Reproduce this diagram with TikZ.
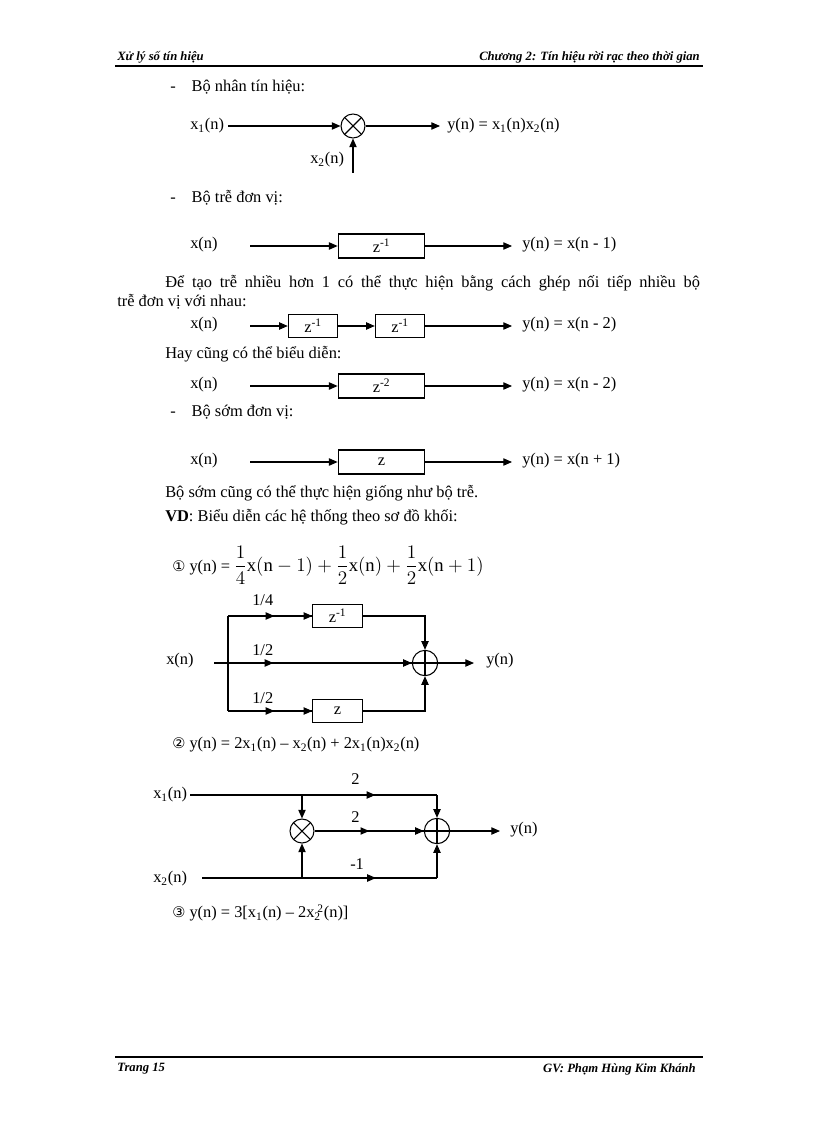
\documentclass[tikz,border=0pt]{standalone}
\usepackage{fontspec}
\setmainfont{Liberation Serif}
\newfontfamily\djvfont{DejaVu Sans}
\usetikzlibrary{arrows.meta,decorations.markings,calc}
\begin{document}
\begin{tikzpicture}[x=0.75pt,y=-0.75pt,font=\fontsize{12.3}{14}\selectfont,
  ar/.style={-{Triangle[length=6.5pt,width=5.5pt]},thick},
  ln/.style={thick},
  mid/.style={thick,postaction={decorate},decoration={markings,mark=at position #1 with {\arrow{Triangle[length=6.5pt,width=5.5pt]}}}},
  blk/.style={draw,thick,minimum width=65pt,minimum height=18pt,inner sep=0pt},
  sblk/.style={draw,thick,minimum width=37pt,minimum height=17pt,inner sep=0pt},
  txt/.style={anchor=west,inner sep=0pt},
  mult/.style={circle,draw,thick,minimum size=18pt,inner sep=0pt,path picture={\draw[thick] (path picture bounding box.north west)--(path picture bounding box.south east) (path picture bounding box.north east)--(path picture bounding box.south west);}},
  plus/.style={circle,draw,thick,minimum size=19pt,inner sep=0pt,path picture={\draw[thick] (path picture bounding box.north)--(path picture bounding box.south) (path picture bounding box.west)--(path picture bounding box.east);}}]
\useasboundingbox (0,0) rectangle (816,1123);
% header/footer
\node[txt,font=\fontsize{9.5}{11}\selectfont\bfseries\itshape] (h1) at (117,57) {Xử lý số tín hiệu};
\node[anchor=east,inner sep=0pt,font=\fontsize{9.5}{11}\selectfont\bfseries\itshape] (h2) at (700,57) {Chương 2: Tín hiệu rời rạc theo thời gian};
\draw[thick] (115,66)--(703,66);
\draw[thick] (115,1057)--(703,1057);
\node[txt,font=\fontsize{9.5}{11}\selectfont\bfseries\itshape] (f1) at (117,1069) {Trang 15};
\node[anchor=east,inner sep=0pt,font=\fontsize{9.5}{11}\selectfont\bfseries\itshape] (f2) at (696,1069) {GV: Phạm Hùng Kim Khánh};
% multiplier
\node[txt] (t1) at (170,87) {-\hspace{12pt}Bộ nhân tín hiệu:};
\node[txt] (x1a) at (190,126) {x\textsubscript{1}(n)};
\node[mult] (m1) at (353,126) {};
\node[txt] (y1) at (447,126) {y(n) = x\textsubscript{1}(n)x\textsubscript{2}(n)};
\node[txt] (x2a) at (310,160) {x\textsubscript{2}(n)};
\coordinate (m1b) at (353,173);
\coordinate (m1o) at (440,126);
\draw[ar] ($(x1a.east)+(3pt,0)$) -- (m1.west);
\draw[ar] (m1.east)--(m1o);
\draw[ar] (m1b)--(m1.south);
% unit delay
\node[txt] (t2) at (170,198) {-\hspace{12pt}Bộ trễ đơn vị:};
\node[txt] (xa) at (190,245) {x(n)};
\node[blk] (b1) at (381.5,246) {z\textsuperscript{-1}};
\node[txt] (ya) at (522,245) {y(n) = x(n - 1)};
\coordinate (sa) at (250,246); \coordinate (ea) at (512,246);
\draw[ar] (sa)--(b1.west); \draw[ar] (b1.east)--(ea);
\node[txt,text width=437pt,align=justify] (p1) at (117,292) {\hspace*{36pt}Để tạo trễ nhiều hơn 1 có thể thực hiện bằng cách ghép nối tiếp nhiều bộ\linebreak trễ đơn vị với nhau:};
\node[txt] (xb) at (190,325) {x(n)};
\node[sblk] (b2) at (313,326) {z\textsuperscript{-1}};
\node[sblk] (b3) at (400,326) {z\textsuperscript{-1}};
\node[txt] (yb) at (522,325) {y(n) = x(n - 2)};
\coordinate (sb) at (250,326); \coordinate (eb) at (512,326);
\draw[ar] (sb)--(b2.west); \draw[ar] (b2.east)--(b3.west); \draw[ar] (b3.east)--(eb);
\node[txt] (t3) at (165,354) {Hay cũng có thể biểu diễn:};
\node[txt] (xc) at (190,385) {x(n)};
\node[blk] (b4) at (381.5,386) {z\textsuperscript{-2}};
\node[txt] (yc) at (522,385) {y(n) = x(n - 2)};
\coordinate (sc) at (250,386); \coordinate (ec) at (512,386);
\draw[ar] (sc)--(b4.west); \draw[ar] (b4.east)--(ec);
\node[txt] (t4) at (170,412) {-\hspace{12pt}Bộ sớm đơn vị:};
\node[txt] (xd) at (190,461) {x(n)};
\node[blk] (b5) at (381.5,462) {z};
\node[txt] (yd) at (522,461) {y(n) = x(n + 1)};
\coordinate (sd) at (250,462); \coordinate (ed) at (512,462);
\draw[ar] (sd)--(b5.west); \draw[ar] (b5.east)--(ed);
\node[txt] (t5) at (165,493) {Bộ sớm cũng có thể thực hiện giống như bộ trễ.};
\node[txt] (t6) at (165,517) {\textbf{VD}: Biểu diễn các hệ thống theo sơ đồ khối:};
% example 1
\node[txt] (e1) at (172,565) {{\djvfont\fontsize{11}{12}\selectfont ①} y(n) = {\fontsize{14}{16}\selectfont$\displaystyle\frac{1}{4}\mathrm{x}(\mathrm{n}-1)+\frac{1}{2}\mathrm{x}(\mathrm{n})+\frac{1}{2}\mathrm{x}(\mathrm{n}+1)$}};
\node[txt] (xe) at (166,661) {x(n)};
\node[plus] (p) at (425,663) {};
\node[sblk] (bz1) at (337.5,616) {z\textsuperscript{-1}};
\node[sblk] (bz) at (337.5,711) {z};
\node[txt] (ye) at (486,661) {y(n)};
\coordinate (s0) at (214,663);
\coordinate (jt) at (228,616); \coordinate (jb) at (228,711);
\coordinate (po) at (474,663);
\draw[ln] (jt)--(jb);
\draw[mid=0.3] (s0)--(p.west); \draw[ar] ($(p.west)+(-1pt,0)$)--(p.west);
\draw[mid=0.55] (jt)--(bz1.west); \draw[ar] ($(bz1.west)+(-1pt,0)$)--(bz1.west);
\draw[mid=0.55] (jb)--(bz.west); \draw[ar] ($(bz.west)+(-1pt,0)$)--(bz.west);
\draw[ar] (bz1.east)-|(p.north);
\draw[ar] (bz.east)-|(p.south);
\draw[ar] (p.east)--(po);
\node[txt] (l1) at (252,600) {1/4};
\node[txt] (l2) at (252,650) {1/2};
\node[txt] (l3) at (252,698) {1/2};
% example 2
\node[txt] (e2) at (172,745) {{\djvfont\fontsize{11}{12}\selectfont ②} y(n) = 2x\textsubscript{1}(n) – x\textsubscript{2}(n) + 2x\textsubscript{1}(n)x\textsubscript{2}(n)};
\node[txt] (x1f) at (153,795) {x\textsubscript{1}(n)};
\node[txt] (x2f) at (153,879) {x\textsubscript{2}(n)};
\node[mult] (m2) at (302,831) {};
\node[plus] (p2) at (437,831) {};
\node[txt] (yf) at (510,830) {y(n)};
\coordinate (a1) at (190,795); \coordinate (a2) at (202,878);
\coordinate (jt2) at (302,795); \coordinate (jb2) at (302,878);
\coordinate (c1) at (437,795); \coordinate (c2) at (437,878);
\coordinate (po2) at (500,831);
\draw[mid=0.75] (a1)--(c1); \draw[ar] (c1)--(p2.north);
\draw[mid=0.74] (a2)--(c2); \draw[ar] (c2)--(p2.south);
\draw[ar] (jt2)--(m2.north); \draw[ar] (jb2)--(m2.south);
\draw[mid=0.5] (m2.east)--(p2.west); \draw[ar] ($(p2.west)+(-1pt,0)$)--(p2.west);
\draw[ar] (p2.east)--(po2);
\node[txt] (l4) at (351,779) {2};
\node[txt] (l5) at (351,817) {2};
\node[txt] (l6) at (350,864) {-1};
\node[txt] (e3) at (172,913) {{\djvfont\fontsize{11}{12}\selectfont ③} y(n) = 3[x\textsubscript{1}(n) – 2x\textsubscript{2}\textsuperscript{\kern-0.3em2}(n)]};
\end{tikzpicture}
\end{document}
